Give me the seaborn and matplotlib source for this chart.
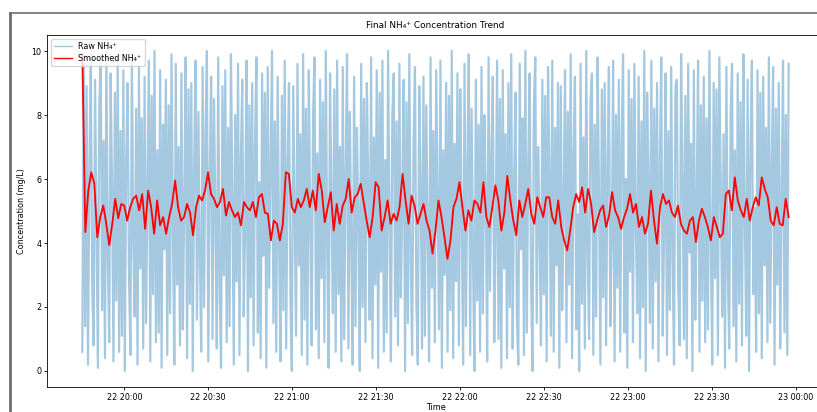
import numpy as np
import pandas as pd
import matplotlib
matplotlib.use("Agg")
import matplotlib.pyplot as plt
import matplotlib.dates as mdates
from matplotlib.lines import Line2D
import seaborn as sns

# time span of the record
start_time = "2025-05-22 19:45:00"
end_time = "2025-05-22 23:57:30"

raw_nh4 = [
    0.6, 9.7, 1.4, 8.9, 0.2, 6.3, 9.9, 2.6, 0.8, 9.1, 4.7, 0.1, 8.4, 9.6, 1.9, 7.2, 0.4, 10.0, 3.5, 0.9,
    9.3, 5.8, 0.3, 8.7, 2.2, 9.8, 0.6, 7.5, 1.1, 9.4, 0.0, 6.6, 9.0, 2.9, 0.5, 9.9, 4.1, 1.7, 8.2, 0.2,
    9.5, 3.2, 7.9, 0.7, 9.2, 1.5, 5.6, 9.7, 0.3, 8.6, 2.4, 10.0, 0.9, 6.9, 1.2, 9.4, 0.1, 7.7, 3.8, 9.1,
    0.5, 8.3, 1.8, 9.9, 4.4, 0.2, 9.6, 2.7, 7.0, 0.8, 9.3, 1.3, 5.2, 9.8, 0.4, 8.8, 2.1, 9.0, 0.0, 6.5,
    9.7, 1.6, 8.1, 3.4, 0.6, 9.5, 2.0, 7.3, 10.0, 0.3, 6.0, 9.2, 1.0, 8.5, 4.9, 0.7, 9.8, 2.5, 0.1, 8.9,
    3.0, 9.4, 0.9, 7.6, 1.4, 9.9, 5.5, 0.2, 8.0, 2.8, 9.6, 0.5, 6.7, 9.1, 1.7, 4.3, 9.7, 0.0, 8.3, 2.3,
    9.0, 0.8, 7.1, 9.8, 1.2, 5.9, 0.4, 9.3, 3.6, 8.7, 0.1, 9.5, 2.6, 6.2, 10.0, 1.5, 7.8, 0.6, 9.2, 4.0,
    0.3, 8.6, 1.9, 9.7, 0.7, 6.4, 9.0, 2.2, 0.0, 8.9, 5.1, 1.1, 9.6, 3.3, 7.4, 0.5, 9.9, 1.6, 8.2, 0.2,
    9.4, 4.6, 0.8, 7.9, 9.8, 1.3, 6.8, 0.4, 9.1, 2.9, 8.4, 0.9, 10.0, 3.7, 0.1, 9.3, 5.3, 1.8, 8.8, 0.6,
    9.7, 2.4, 7.0, 0.3, 9.5, 1.0, 6.1, 9.9, 0.7, 8.1, 3.9, 0.2, 9.2, 1.4, 7.6, 4.8, 0.0, 9.6, 2.0, 8.5,
    0.9, 9.0, 5.7, 1.6, 9.8, 0.4, 7.3, 2.7, 9.4, 0.1, 8.7, 3.1, 9.7, 0.6, 6.6, 1.2, 10.0, 4.5, 0.3, 8.0,
    9.3, 1.7, 7.8, 0.8, 9.6, 2.3, 5.0, 9.1, 0.0, 8.4, 1.5, 9.9, 3.4, 0.5, 7.2, 9.5, 2.1, 0.2, 8.9, 6.0,
    0.7, 9.2, 1.1, 8.3, 4.2, 0.3, 9.8, 2.6, 7.5, 0.9, 9.4, 5.4, 1.3, 9.7, 0.1, 6.9, 3.0, 9.0, 0.6, 8.6,
    1.9, 10.0, 0.4, 7.1, 2.8, 9.3, 0.8, 8.8, 4.7, 0.2, 9.6, 1.4, 6.3, 9.9, 0.5, 8.2, 3.5, 0.0, 9.1, 2.2,
    7.7, 0.6, 9.5, 1.8, 8.0, 5.6, 0.3, 9.8, 2.5, 6.7, 9.2, 0.9, 4.1, 9.7, 1.0, 8.5, 0.1, 9.4, 3.2, 7.4,
    0.4, 9.0, 2.0, 9.9, 0.7, 5.8, 8.7, 1.6, 0.2, 9.6, 3.8, 7.9, 0.5, 10.0, 1.2, 6.4, 9.3, 2.9, 0.0, 8.3,
    9.8, 1.5, 7.0, 4.4, 0.8, 9.1, 2.4, 8.6, 0.3, 9.5, 6.1, 1.1, 9.7, 0.6, 7.6, 3.3, 9.0, 0.1, 8.9, 1.9,
    5.2, 9.4, 0.9, 8.1, 2.7, 9.9, 0.4, 6.8, 9.2, 1.3, 4.9, 0.0, 9.6, 2.1, 7.3, 0.7, 10.0, 3.6, 1.0, 8.4,
    9.3, 0.5, 7.7, 1.7, 9.8, 5.5, 0.2, 8.8, 2.3, 9.0, 0.8, 6.5, 9.5, 1.4, 3.9, 9.7, 0.3, 8.0, 2.6, 9.1,
    0.6, 7.2, 9.9, 1.2, 6.0, 0.1, 9.4, 3.1, 8.5, 0.9, 9.6, 4.6, 1.8, 9.2, 0.4, 7.8, 2.0, 10.0, 0.0, 8.7,
    5.9, 1.5, 9.7, 0.7, 8.2, 2.8, 9.0, 0.3, 6.6, 9.8, 1.1, 4.3, 9.3, 0.5, 7.5, 1.9, 9.5, 3.4, 0.2, 8.9,
    9.1, 2.5, 0.8, 9.9, 6.2, 1.0, 8.6, 0.4, 9.6, 3.7, 7.1, 0.0, 9.4, 1.6, 5.3, 9.7, 0.6, 8.3, 2.2, 9.2,
    0.9, 7.9, 1.3, 10.0, 4.0, 0.2, 9.0, 2.9, 8.8, 0.5, 9.8, 5.7, 1.7, 7.4, 0.1, 9.5, 3.0, 0.7, 8.1, 9.6,
    1.4, 6.9, 0.3, 9.3, 2.1, 8.4, 0.8, 9.9, 4.8, 1.1, 9.1, 0.0, 7.0, 9.7, 2.4, 5.1, 0.6, 9.4, 1.8, 8.7,
    0.4, 9.2, 3.3, 7.6, 0.9, 9.8, 1.5, 6.3, 9.5, 0.2, 8.2, 2.7, 9.0, 0.7, 5.4, 9.7, 1.2, 8.0, 0.5, 9.6,
]

# smoothed curve (mg/L) left to right
smooth_nh4 = [
    9.9, 4.34, 5.64, 6.21, 5.85, 4.18, 4.81, 5.17, 4.60, 3.93, 4.60, 5.38, 4.77, 5.22, 5.17, 4.70,
    5.12, 5.38, 5.48, 5.02, 5.53, 4.44, 5.64, 5.12, 4.29, 5.33, 4.55, 4.81, 4.29, 4.81, 5.22, 5.95,
    5.12, 4.70, 4.81, 5.22, 4.95, 4.24, 5.12, 5.48, 5.33, 5.64, 6.21, 5.53, 5.38, 5.12, 5.28, 5.69,
    4.86, 5.28, 5.02, 4.81, 4.95, 4.55, 5.28, 5.12, 5.02, 5.28, 4.81, 5.43, 5.53, 4.95, 4.91, 4.08,
    4.70, 4.60, 4.08, 4.60, 6.21, 6.16, 5.12, 4.95, 5.38, 5.12, 5.33, 5.69, 5.12, 5.64,
    5.02, 6.16, 5.64, 4.65, 5.12, 5.59, 4.39, 5.22, 4.60, 5.17, 5.38, 6.00, 4.95, 5.43, 5.53, 5.85,
    5.28, 4.70, 4.18, 4.81, 5.90, 5.74, 4.39, 4.81, 5.33, 4.60, 4.91, 4.70, 5.12, 6.16, 5.33, 4.60,
    5.48, 5.17, 4.60, 4.91, 5.22, 4.70, 4.39, 3.67, 4.39, 5.33, 4.81, 4.18, 3.50, 4.08, 5.12, 5.38,
    5.90, 5.12, 4.39, 5.02, 4.70, 5.33, 5.22, 4.95, 5.90, 4.81, 4.50, 5.12, 5.80, 5.33, 4.39, 4.95,
    6.10, 5.33, 4.70, 4.24, 5.33, 4.81, 5.22, 5.69, 4.91, 4.60, 5.43, 5.12, 4.81, 5.43,
    5.43, 4.81, 4.60, 5.33, 4.50, 4.08, 3.77, 4.39, 5.12, 5.53, 5.28, 5.74, 4.95, 5.69, 5.22, 4.34,
    4.70, 5.02, 5.17, 4.50, 4.86, 5.59, 5.02, 4.81, 4.44, 4.81, 5.07, 5.53, 4.95, 5.22, 4.50, 4.81,
    4.29, 4.60, 5.64, 4.70, 3.98, 5.12, 5.53, 5.22, 5.33, 4.95, 4.81, 5.17, 4.60, 4.39, 4.29, 4.70,
    4.81, 4.03, 4.70, 5.07, 4.81, 4.50, 4.08, 4.81, 4.50, 4.18, 4.29, 5.53, 5.64, 5.02, 6.05, 5.33,
    5.02, 4.81, 5.38, 4.70, 5.12, 5.43, 5.17, 6.05, 5.69, 5.43, 4.70, 4.55, 5.12, 4.60, 4.55, 5.38,
    4.81,
]

raw_df = pd.DataFrame({
    "time": pd.date_range(start_time, end_time, periods=len(raw_nh4)),
    "nh4": raw_nh4,
})
smooth_df = pd.DataFrame({
    "time": pd.date_range(start_time, end_time, periods=len(smooth_nh4)),
    "nh4": smooth_nh4,
})

plt.rcParams["font.family"] = ["DejaVu Sans"]
fig = plt.figure(figsize=(8.17, 4.12), dpi=100)
ax = fig.add_axes([47 / 817, 1 - 387 / 412, 777 / 817, 352 / 412])

sns.lineplot(data=raw_df, x="time", y="nh4", ax=ax, color="tab:blue", alpha=0.4,
             linewidth=1.6, label="Raw NH\u2084\u207a", errorbar=None)
sns.lineplot(data=smooth_df, x="time", y="nh4", ax=ax, color="red",
             linewidth=1.3, label="Smoothed NH\u2084\u207a", errorbar=None)

ax.xaxis.set_major_locator(mdates.MinuteLocator(byminute=[0, 30]))
ax.xaxis.set_major_formatter(mdates.DateFormatter("%d %H:%M"))
ax.set_yticks([0, 2, 4, 6, 8, 10])
ax.tick_params(labelsize=5.8, length=2.2, width=0.6, pad=2)
for s in ax.spines.values():
    s.set_linewidth(0.6)

ax.set_title("Final NH\u2084\u207a Concentration Trend", fontsize=6.4, pad=5)
ax.set_xlabel("Time", fontsize=5.8, labelpad=1)
ax.set_ylabel("Concentration (mg/L)", fontsize=5.8, labelpad=4)
leg = ax.legend(loc="upper left", fontsize=5.8, handlelength=2.2, borderpad=0.4,
                labelspacing=0.3, framealpha=0.8)
for h in leg.get_lines():
    h.set_linewidth(1.0)

# screenshot frame
fig.add_artist(Line2D([10 / 817, 10 / 817], [0, 1 - 13 / 412], transform=fig.transFigure,
                      color="#6e6e6e", linewidth=2.0))
fig.add_artist(Line2D([10 / 817, 1], [1 - 13 / 412, 1 - 13 / 412], transform=fig.transFigure,
                      color="#6e6e6e", linewidth=1.2))

fig.savefig("out.png", dpi=100)
